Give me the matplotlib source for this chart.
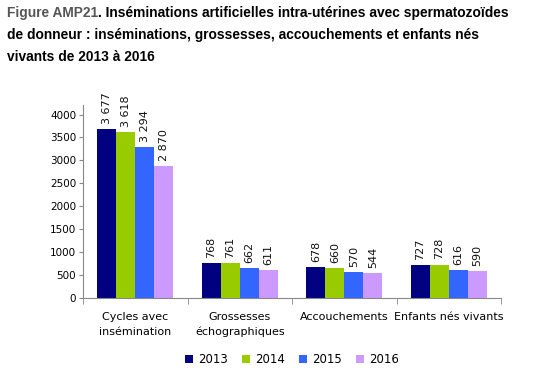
import numpy as np
import matplotlib.pyplot as plt

plt.rcParams["font.family"] = ["DejaVu Sans"]

categories = ["Cycles avec\ninsémination", "Grossesses\néchographiques",
              "Accouchements", "Enfants nés vivants"]
years = ["2013", "2014", "2015", "2016"]
v2013 = [3677, 768, 678, 727]
v2014 = [3618, 761, 660, 728]
v2015 = [3294, 662, 570, 616]
v2016 = [2870, 611, 544, 590]
series = [v2013, v2014, v2015, v2016]
colors = ["#000080", "#99CC00", "#3366FF", "#CC99FF"]

fig = plt.figure(figsize=(5.5, 3.8), dpi=100)
ax = fig.add_axes([0.151, 0.216, 0.760, 0.508])

x = np.arange(len(categories))
w = 0.182
for i, (vals, col, yr) in enumerate(zip(series, colors, years)):
    pos = x + (i - 1.5) * w
    ax.bar(pos, vals, width=w, color=col, label=yr)
    for p, v in zip(pos, vals):
        txt = f"{v:,}".replace(",", " ")
        ax.text(p, v + 110, txt, rotation=90, ha="center", va="bottom",
                fontsize=8, color="#111111")

ax.set_xlim(-0.5, len(categories) - 0.5)
ax.set_ylim(0, 4210)
ax.set_yticks(range(0, 4001, 500))
ax.tick_params(axis="y", labelsize=7.5, length=3, color="#888888", pad=2)
ax.set_xticks(x)
ax.set_xticklabels(categories, fontsize=8, linespacing=1.6)
ax.tick_params(axis="x", length=0, pad=10)
ax.set_xticks(np.arange(-0.5, len(categories)), minor=True)
ax.tick_params(axis="x", which="minor", length=4, color="#888888")
for s in ["top", "right"]:
    ax.spines[s].set_visible(False)
for s in ["left", "bottom"]:
    ax.spines[s].set_color("#888888")
    ax.spines[s].set_linewidth(0.8)

ax.legend(loc="center", bbox_to_anchor=(0.5, -0.32), ncol=4, frameon=False,
          fontsize=8.5, handlelength=0.7, handleheight=0.7, handletextpad=0.4,
          columnspacing=1.2)

tfont = dict(family="Liberation Sans", fontsize=9.9, fontweight="bold")
t1 = fig.text(0.013, 0.965, "Figure AMP21", color="#555555", va="center", **tfont)
fig.canvas.draw()
bb = t1.get_window_extent()
fig.text(bb.x1 / fig.bbox.width, 0.965,
         ". Inséminations artificielles intra-utérines avec spermatozoïdes",
         color="black", va="center", **tfont)
fig.text(0.013, 0.907, "de donneur : inséminations, grossesses, accouchements et enfants nés",
         color="black", va="center", **tfont)
fig.text(0.013, 0.849, "vivants de 2013 à 2016", color="black", va="center", **tfont)

fig.savefig("out.png", dpi=100)
